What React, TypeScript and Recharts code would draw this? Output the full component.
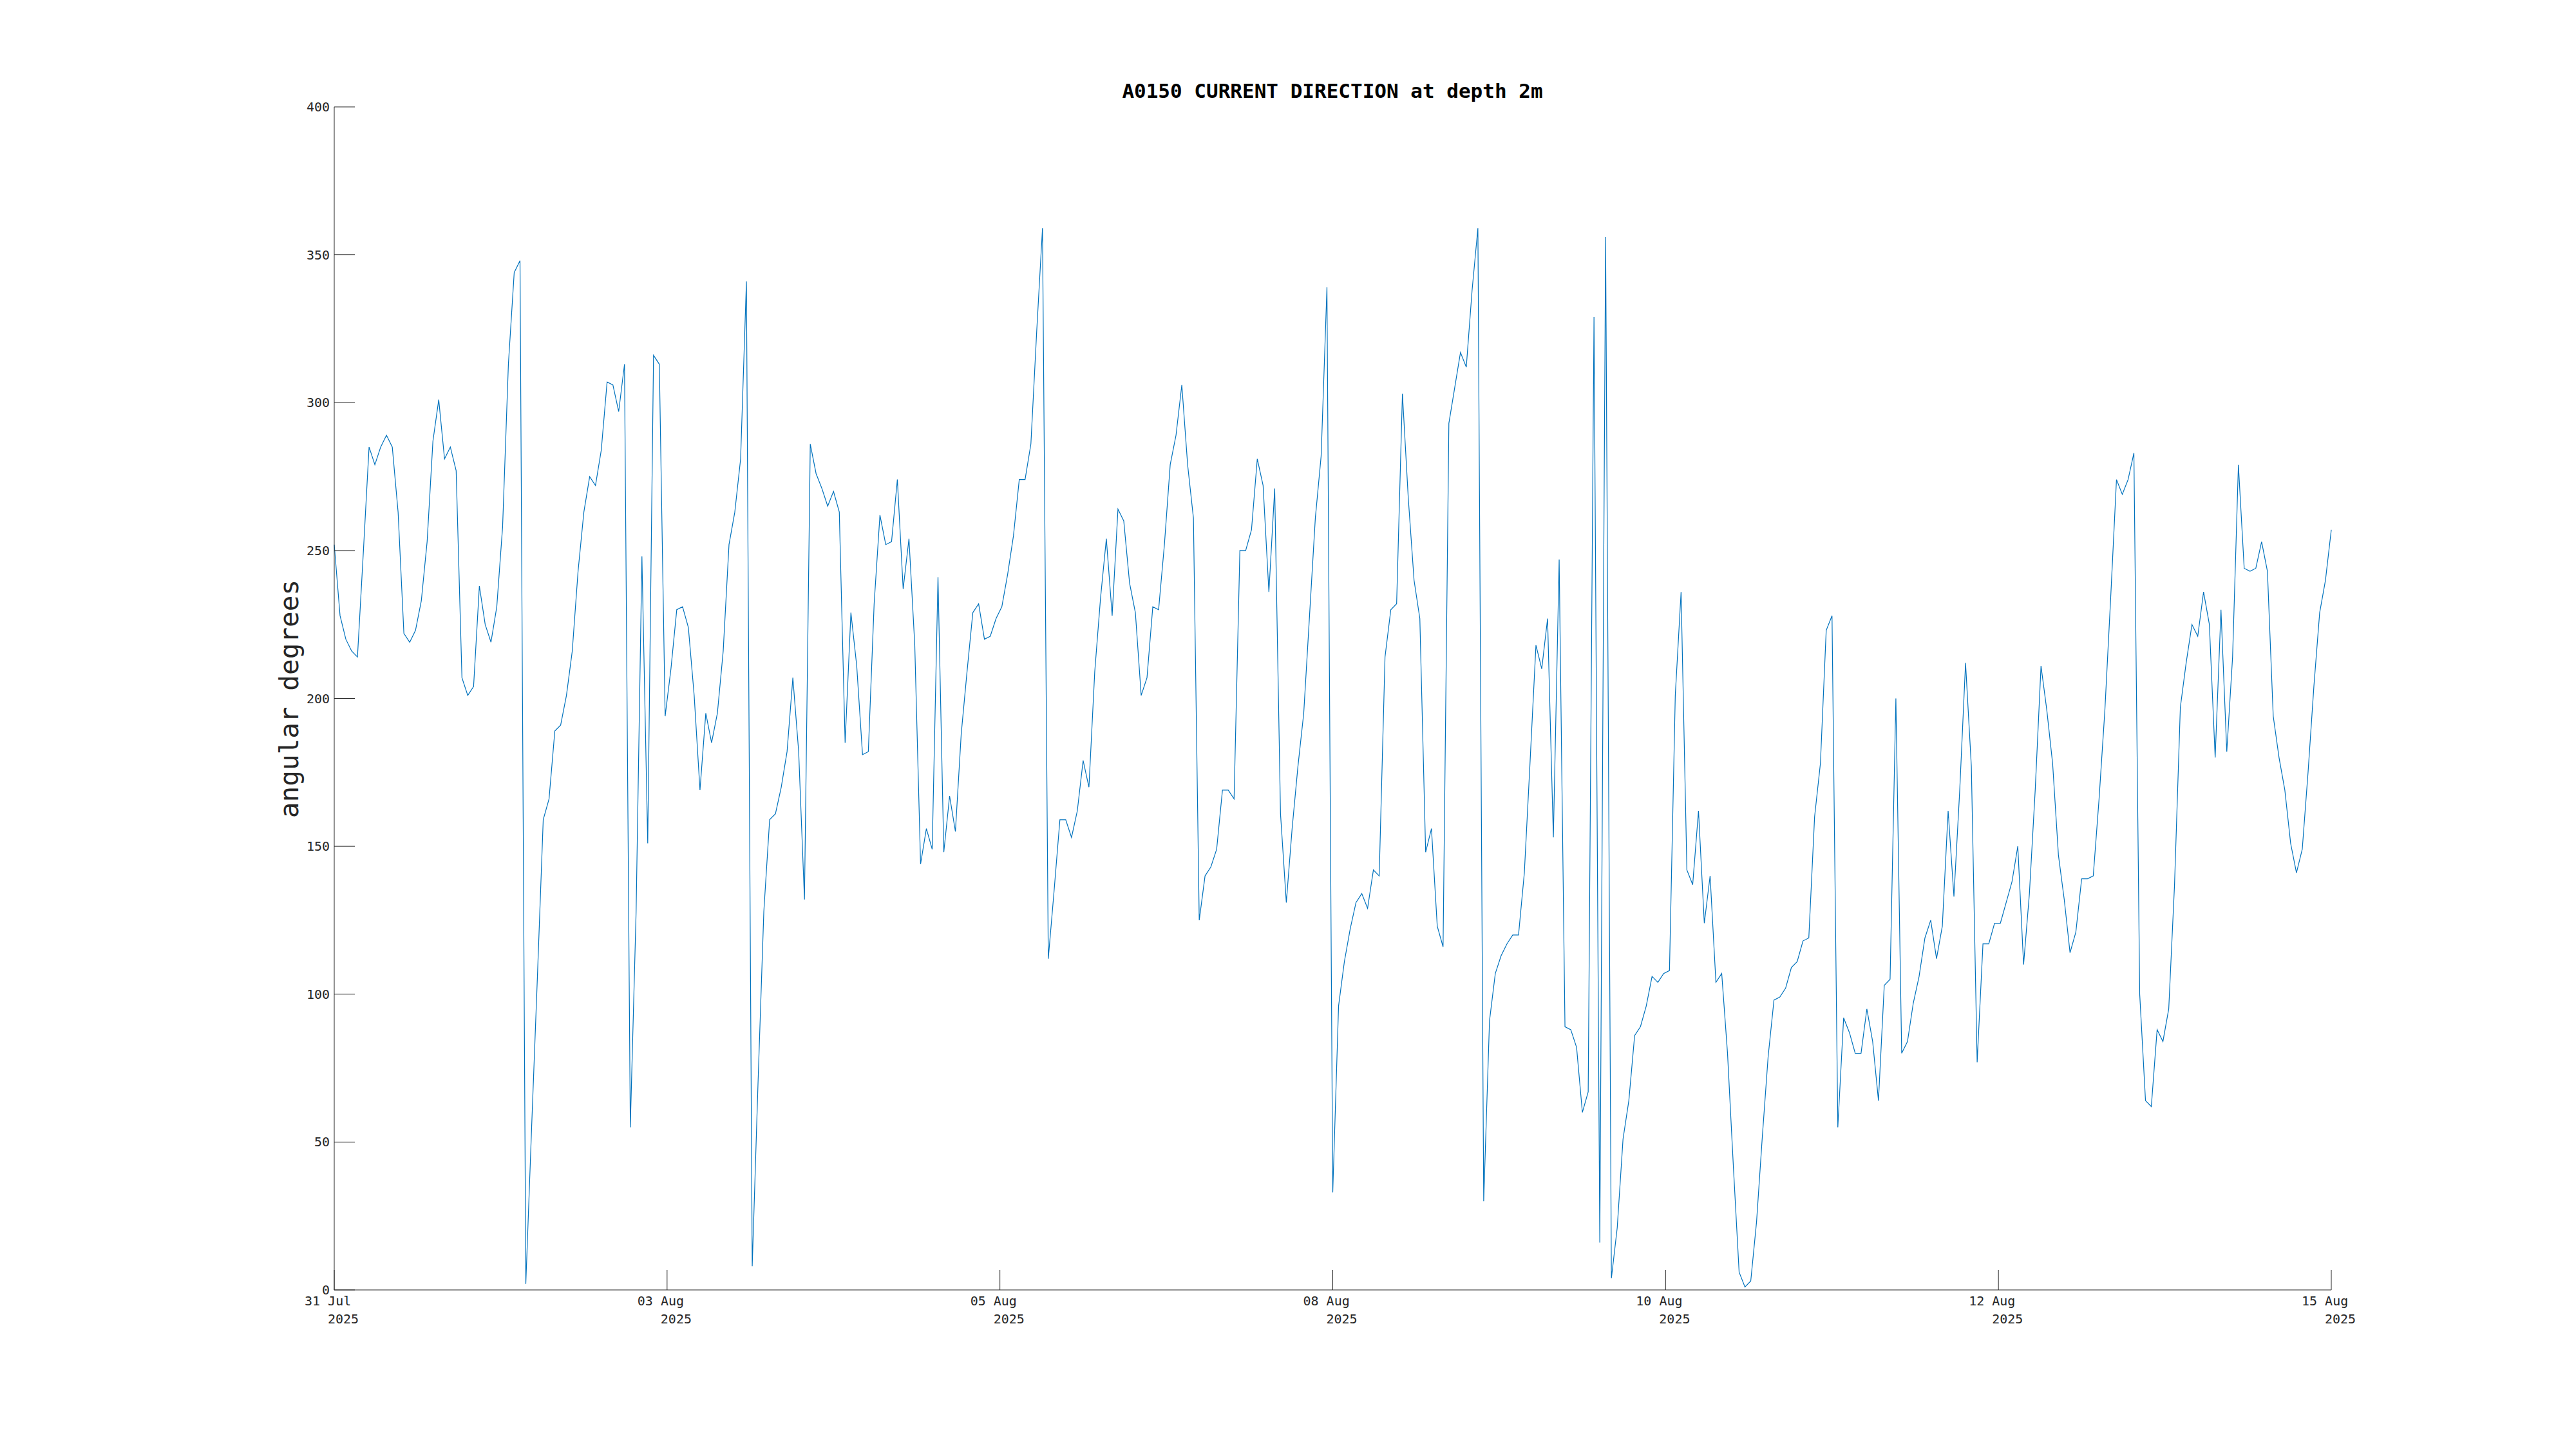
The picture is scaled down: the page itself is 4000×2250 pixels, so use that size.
import { LineChart, Line, XAxis, YAxis } from "recharts";

// current direction (deg), hourly samples
const dirPart1 = [
  252, 228, 220, 216, 214, 249, 285, 279, 285, 289, 285, 263, 222, 219, 223, 233, 253, 287, 301, 281,
  285, 277, 207, 201, 204, 238, 225, 219, 231, 258, 313, 344, 348, 2, 55, 106, 159, 166, 189,
];
const dirPart2 = [
  191, 201, 216, 243, 263, 275, 272, 284, 307, 306, 297, 313, 55, 128, 248, 151, 316, 313, 194, 210,
  230, 231, 224, 201, 169, 195, 185, 195, 216, 252, 263, 281, 341, 8, 70, 128, 159, 161, 170,
];
const dirPart3 = [
  182, 207, 182, 132, 286, 276, 271, 265, 270, 263, 185, 229, 211, 181, 182, 232, 262, 252, 253, 274,
  237, 254, 218, 144, 156, 149, 241, 148, 167, 155, 188, 209, 229, 232, 220, 221, 227, 231, 242,
];
const dirPart4 = [
  255, 274, 274, 286, 324, 359, 112, 135, 159, 159, 153, 162, 179, 170, 209, 234, 254, 228, 264, 260,
  239, 229, 201, 207, 231, 230, 252, 279, 289, 306, 279, 261, 125, 140, 143, 149, 169, 169, 166,
];
const dirPart5 = [
  250, 250, 257, 281, 272, 236, 271, 161, 131, 156, 177, 195, 228, 261, 282, 339, 33, 96, 111, 122,
  131, 134, 129, 142, 140, 214, 230, 232, 303, 268, 240, 227, 148, 156, 123, 116, 293, 305, 317,
];
const dirPart6 = [
  312, 338, 359, 30, 91, 107, 113, 117, 120, 120, 141, 179, 218, 210, 227, 153, 247, 89, 88, 82,
  60, 67, 329, 16, 356, 4, 21, 51, 64, 86, 89, 96, 106, 104, 107, 108, 201, 236, 142,
];
const dirPart7 = [
  137, 162, 124, 140, 104, 107, 80, 42, 6, 1, 3, 23, 52, 79, 98, 99, 102, 109, 111, 118,
  119, 160, 178, 223, 228, 55, 92, 87, 80, 80, 95, 84, 64, 103, 105, 200, 80, 84,
];
const dirPart8 = [
  97, 106, 119, 125, 112, 123, 162, 133, 169, 212, 177, 77, 117, 117, 124, 124, 131, 138, 150, 110,
  134, 169, 211, 196, 178, 147, 132, 114, 121, 139, 139, 140, 166, 196, 234, 274, 269, 274, 283,
];
const dirPart9 = [
  100, 64, 62, 88, 84, 95, 137, 197, 212, 225, 221, 236, 225, 180, 230, 182, 214, 279, 244, 243,
  244, 253, 243, 194, 180, 169, 151, 141, 149, 175, 204, 229, 240, 257,
];

const tickDays = ["31 Jul", "03 Aug", "05 Aug", "08 Aug", "10 Aug", "12 Aug", "15 Aug"];
const tickYears = ["2025", "2025", "2025", "2025", "2025", "2025", "2025"];
const yTicks = [0, 50, 100, 150, 200, 250, 300, 350, 400];

const allDir = [
  ...dirPart1, ...dirPart2, ...dirPart3, ...dirPart4, ...dirPart5,
  ...dirPart6, ...dirPart7, ...dirPart8, ...dirPart9,
];
const data = allDir.map((v, i) => ({ i, v }));
const lastIdx = allDir.length - 1;
const xTicks = tickDays.map((_, k) => (lastIdx * k) / (tickDays.length - 1));

const AXIS = "#262626";
const MONO = "'DejaVu Sans Mono', monospace";

const YTick = (props: any) => {
  const { x, y, payload } = props;
  return (
    <g>
      <line x1={x} x2={x + 32} y1={y} y2={y} stroke={AXIS} strokeWidth={1} />
      <text x={x - 7} y={y} textAnchor="end" dominantBaseline="central" fontFamily={MONO} fontSize={20} fill={AXIS}>
        {payload.value}
      </text>
    </g>
  );
};

const XTick = (props: any) => {
  const { x, y, payload, index } = props;
  const k = index ?? xTicks.indexOf(payload.value);
  return (
    <g>
      <line x1={x} x2={x} y1={y} y2={y - 31} stroke={AXIS} strokeWidth={1} />
      <text x={x - 46} y={y + 24} textAnchor="start" fontFamily={MONO} fontSize={20} fill={AXIS}>
        {tickDays[k]}
      </text>
      <text x={x - 10} y={y + 52} textAnchor="start" fontFamily={MONO} fontSize={20} fill={AXIS}>
        {tickYears[k]}
      </text>
    </g>
  );
};

export default function App() {
  return (
    <div style={{ position: "absolute", left: 0, top: 0, width: 4000, height: 2250, background: "#fff" }}>
      <LineChart
        width={4000}
        height={2250}
        data={data}
        margin={{ top: 166, right: 380, bottom: 147, left: 419 }}
      >
        <XAxis
          dataKey="i"
          type="number"
          domain={[0, lastIdx]}
          ticks={xTicks}
          interval={0}
          height={100}
          tickSize={0}
          tickMargin={0}
          tickLine={false}
          axisLine={{ stroke: AXIS, strokeWidth: 1 }}
          tick={<XTick />}
        />
        <YAxis
          type="number"
          domain={[0, 400]}
          ticks={yTicks}
          interval={0}
          width={100}
          tickSize={0}
          tickMargin={0}
          tickLine={false}
          axisLine={{ stroke: AXIS, strokeWidth: 1 }}
          tick={<YTick />}
        />
        <Line
          type="linear"
          dataKey="v"
          stroke="#0072BD"
          strokeWidth={1.2}
          dot={false}
          isAnimationActive={false}
        />
      </LineChart>
      <svg
        width={4000}
        height={2250}
        style={{ position: "absolute", left: 0, top: 0, pointerEvents: "none" }}
      >
        <text x={2069} y={152} textAnchor="middle" fontFamily={MONO} fontWeight="bold" fontSize={31} fill="#000">
          A0150 CURRENT DIRECTION at depth 2m
        </text>
        <text
          x={449}
          y={1085}
          transform="rotate(-90 449 1085)"
          textAnchor="middle"
          dominantBaseline="central"
          fontFamily={MONO}
          fontSize={41}
          fill={AXIS}
        >
          angular degrees
        </text>
      </svg>
    </div>
  );
}
